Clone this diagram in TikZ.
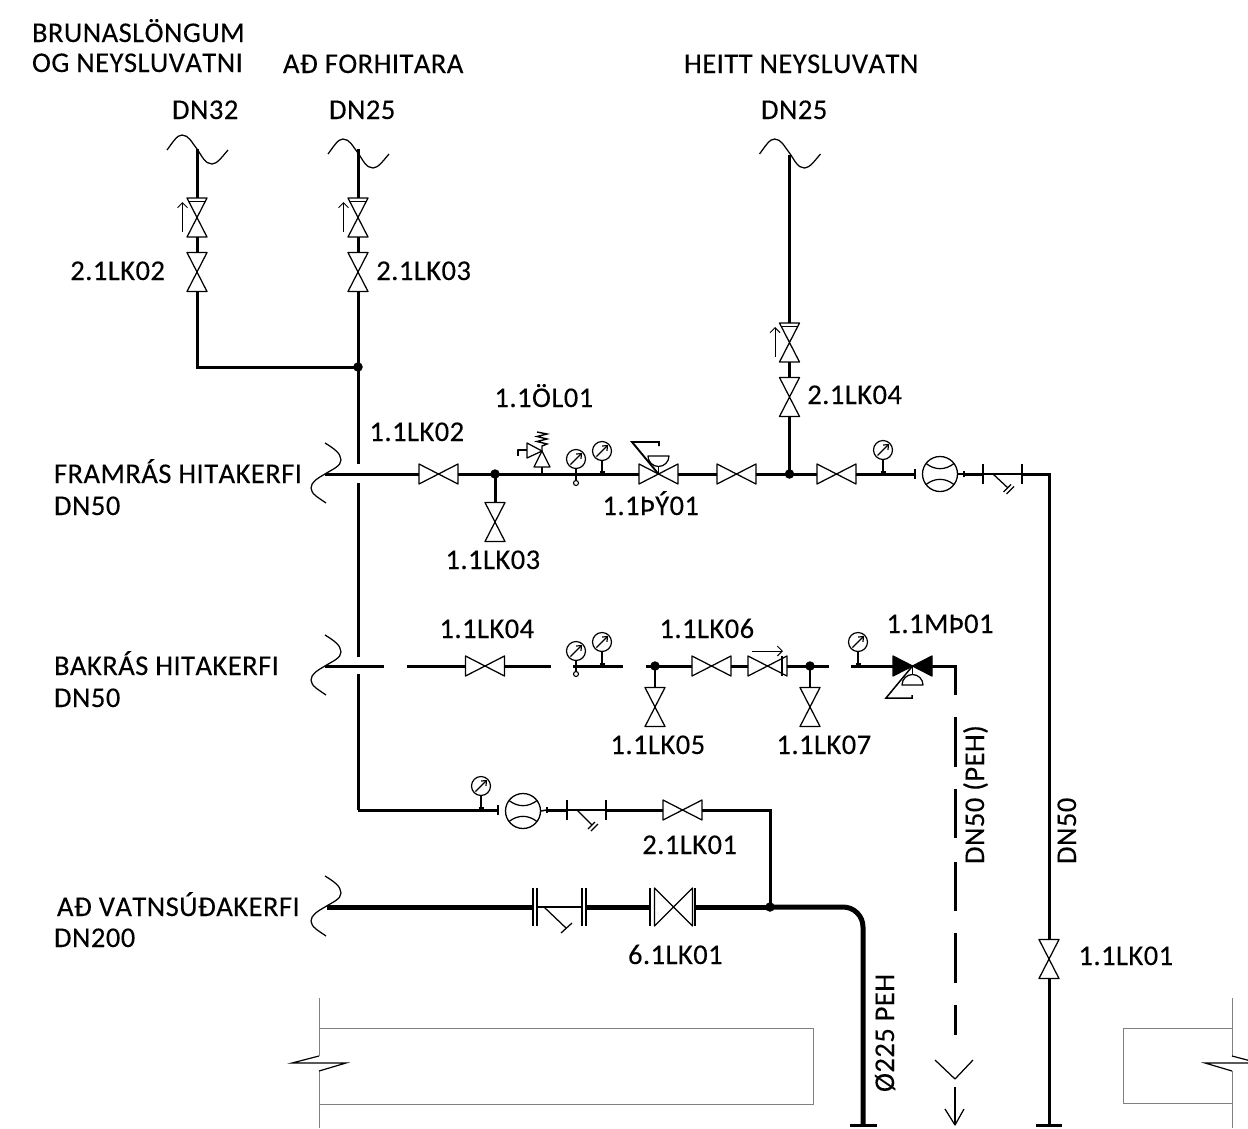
\documentclass[tikz,border=0pt]{standalone}
\usepackage{fontspec}
\setmainfont[Kerning=Off,LetterSpace=1.5,FakeBold=0.12]{Carlito}
\usetikzlibrary{arrows.meta}
\tikzset{
  pipe/.style={line width=3pt,line cap=butt,line join=miter},
  mainpipe/.style={line width=5pt,line cap=butt},
  thinpipe/.style={line width=1.5pt},
  sym/.style={line width=1.25pt,line join=round},
  wall/.style={line width=1pt,draw=black!50},
  vbox/.style={inner sep=0pt,outer sep=0pt,minimum size=0pt,rectangle},
  jdot/.style={circle,fill=black,inner sep=0pt,outer sep=0pt,minimum size=9.5pt},
  gaugecirc/.style={circle,draw,line width=1.2pt,inner sep=0pt,outer sep=0pt,minimum size=19pt},
  metercirc/.style={circle,draw,line width=1.3pt,inner sep=0pt,outer sep=0pt,minimum size=35pt},
  lab/.style={inner sep=0pt,outer sep=0pt,anchor=base west,font=\fontsize{28.6}{30}\selectfont},
  vlab/.style={lab,rotate=90},
}
% horizontal and vertical gate valves
\newcommand{\valveH}[3]{\node[vbox,minimum width=39pt,minimum height=20pt] (#1) at (#2,#3) {};
  \draw[sym] (#1.north west)--(#1.south east)--(#1.north east)--(#1.south west)--cycle;}
\newcommand{\valveV}[3]{\node[vbox,minimum width=20pt,minimum height=39pt] (#1) at (#2,#3) {};
  \draw[sym] (#1.north west)--(#1.north east)--(#1.south west)--(#1.south east)--cycle;}
% vertical check valve with arrow
\newcommand{\checkV}[3]{\valveV{#1}{#2}{#3}
  \draw[line width=0.9pt] ([xshift=1.5pt,yshift=-3pt]#1.north west)--([xshift=-1.5pt,yshift=-3pt]#1.north east);
  \begin{scope}[shift={(#2,#3)}]\draw[line width=1pt,-{Straight Barb[length=5pt,width=10pt]}] (-14.5,14.5)--(-14.5,-15.5);\end{scope}}
% gauge
\newcommand{\gaugeN}[3]{\node[gaugecirc] (#1) at (#2,#3) {};
  \begin{scope}[shift={(#2,#3)}]\draw[line width=1.2pt,-{Straight Barb[length=4pt,width=7pt]}] (-5.5,5.5)--(6,-6);\end{scope}}
\newcommand{\footed}[3]{\coordinate (#1-foot) at (#2,#3);
  \draw[sym] (#1.south)--(#1-foot);
  \draw[line width=2pt] ([xshift=-2.5pt,yshift=1pt]#1-foot)--([xshift=2.5pt,yshift=1pt]#1-foot);}
\newcommand{\ringed}[3]{\node[circle,draw,line width=1.1pt,inner sep=0pt,outer sep=0pt,minimum size=5pt] (#1-ring) at (#2,#3) {};
  \draw[sym] (#1.south)--(#1-ring.north);}
% flow meter
\newcommand{\meterN}[3]{\node[metercirc] (#1) at (#2,#3) {};
  \begin{scope}[shift={(#2,#3)}]
  \draw[sym] (-14,-10.5) .. controls (-5,-3.6) and (5,-3.6) .. (14,-10.5);
  \draw[sym] (-14,10.5) .. controls (-5,3.6) and (5,3.6) .. (14,10.5);
  \end{scope}}
% tick
\newcommand{\tickN}[4]{\coordinate (#1) at (#2,#3);
  \draw[sym] ([yshift=#4 pt]#1)--([yshift=-#4 pt]#1);}
\newcommand{\waveH}[2]{\draw[sym] (#1-30,#2+1) .. controls (#1-24,#2-7) and (#1-20,#2-14) .. (#1-15,#2-14) .. controls (#1-8,#2-14) and (#1-5,#2-6) .. (#1,#2) .. controls (#1+5,#2+7) and (#1+8,#2+15) .. (#1+15,#2+15) .. controls (#1+20,#2+15) and (#1+25,#2+8) .. (#1+31,#2+1);}
\newcommand{\waveV}[2]{\draw[sym] (#1,#2-31) .. controls (#1+8,#2-26) and (#1+16,#2-21) .. (#1+16,#2-14) .. controls (#1+16,#2-8) and (#1+8,#2-5) .. (#1,#2) .. controls (#1-7,#2+4) and (#1-14,#2+8) .. (#1-14,#2+14) .. controls (#1-14,#2+20) and (#1-6,#2+24) .. (#1+1,#2+29);}
\begin{document}
\begin{tikzpicture}[x=1pt,y=-1pt]
\useasboundingbox (0,0) rectangle (1248,1128);

% ---------- walls
\draw[wall] (319,1028)--(813,1028)--(813,1104)--(319,1104);
\draw[wall] (319,998)--(319,1056);
\draw[wall] (319,1071)--(319,1128);
\draw[line width=1.2pt] (319,1056)--(292,1063)--(346,1063)--(319,1071);
\draw[wall] (1232,1028)--(1123,1028)--(1123,1103)--(1232,1103);
\draw[wall] (1232,998)--(1232,1056);
\draw[wall] (1232,1071)--(1232,1128);
\draw[line width=1.2pt] (1232,1056)--(1248,1060.2);
\draw[line width=1.2pt] (1248,1063)--(1205,1063)--(1232,1071);

% ---------- top branches
\coordinate (t1) at (197,149);
\coordinate (t2) at (358,149);
\coordinate (t3) at (789.5,155);
\waveH{197}{149}\waveH{358}{153}\waveH{789.5}{153}
\checkV{c1}{197}{217.5}\valveV{v1}{197}{272}
\checkV{c2}{358}{217.5}\valveV{v2}{358}{272}
\node[jdot] (j1) at (358,367) {};
\coordinate (b1) at (197,367);
\draw[pipe] (t1)--(c1.north);
\draw[pipe] (c1.south)--(v1.north);
\draw[pipe] (v1.south)--(b1)--(j1.center);
\draw[pipe] (t2)--(c2.north);
\draw[pipe] (c2.south)--(v2.north);
\draw[pipe] (v2.south)--(j1.center);
\coordinate (g1a) at (358,464);
\coordinate (g1b) at (358,483);
\coordinate (g2a) at (358,657);
\coordinate (g2b) at (358,674);
\coordinate (r1) at (358,810);
\draw[pipe] (j1.center)--(g1a);
\draw[pipe] (g1b)--(g2a);

% ---------- supply line
\waveV{325}{474}
\coordinate (f0) at (325,474);
\valveH{lk02}{438.5}{474}
\node[jdot] (j2) at (495,474) {};
\valveV{lk03}{495}{522}
\valveH{py}{658.5}{474}
\valveH{vs}{736.5}{474}
\node[jdot] (j3) at (789.5,474) {};
\valveH{vs2}{836.5}{474}
\checkV{c3}{789.5}{342.5}\valveV{v4}{789.5}{397}
\draw[pipe] (f0)--(lk02.west);
\draw[pipe] (lk02.east)--(j2.center);
\draw[pipe] (j2.center)--(lk03.north);
\draw[pipe] (j2.center)--(py.west);
\draw[pipe] (py.east)--(vs.west);
\draw[pipe] (vs.east)--(j3.center);
\draw[pipe] (j3.center)--(vs2.west);
\draw[pipe] (j3.center)--(v4.south);
\draw[pipe] (v4.north)--(c3.south);
\draw[pipe] (c3.north)--(t3);

% safety valve
\coordinate (sv) at (542,474);
\coordinate (sva) at (542,451);
\draw[sym] (sv)--(542,467);
\draw[sym] (534,467)--(550,467)--(sva)--cycle;
\draw[sym] (527,443)--(527,458)--(sva)--cycle;
\draw[sym] (527,450)--(518,450)--(518,456);
\draw[line width=1.4pt] (sva)--(542,446)--(547,444)--(537,441.5)--(547,439)--(537,436.5)--(547,434)--(537,432);

% gauges on supply line
\gaugeN{g1}{576}{459}\ringed{g1}{576}{483}
\gaugeN{g2}{602}{451}\footed{g2}{602}{473}
\gaugeN{g3}{883}{450}\footed{g3}{883}{473}

% control valve actuator
\draw[sym] (py.center)--(658.5,456);
\draw[sym,fill=white] (648,456) arc[start angle=180,end angle=0,radius=10.5] -- cycle;
\draw[line width=1.9pt] (659,446)--(659,442)--(632,442)--(py.center);

% supply line end
\tickN{m1l}{915}{474}{5}
\meterN{m1}{940}{474}
\tickN{m1r}{964}{474}{3}
\tickN{s1a}{983}{474}{10}
\tickN{s1b}{1022}{474}{10}
\coordinate (cor1) at (1049,474);
\coordinate (end1) at (1049,1125);
\valveV{lk01}{1049}{959}
\draw[pipe] (vs2.east)--(m1l);
\draw[thinpipe] (m1.east)--(m1r);
\draw[pipe] (m1r)--(s1a);
\draw[thinpipe] (s1a)--(s1b);
\draw[pipe] (s1b)--(cor1)--(lk01.north);
\draw[pipe] (lk01.south)--(end1);
\draw[pipe] (1036,1125)--(1062,1125);
\coordinate (st1) at (993,474);
\draw[sym] (st1)--(1008,488);
\draw[sym] (1003.5,492)--(1011,484.5);
\draw[sym] (1006.5,494)--(1014,486.5);

% ---------- return line
\waveV{325}{666}
\coordinate (r0) at (325,666);
\coordinate (r0e) at (384,666);
\coordinate (r1s) at (407,666);
\valveH{lk04}{485}{666}
\coordinate (r1e) at (551,666);
\coordinate (r2s) at (573,666);
\coordinate (r2e) at (623,666);
\coordinate (r3s) at (646,666);
\node[jdot] (j4) at (655,666) {};
\valveH{lk06}{711.5}{666}
\valveH{cv}{767.5}{666}
\draw[sym] (782,656)--(782,676);
\node[jdot] (j5) at (810,666) {};
\coordinate (r3e) at (829,666);
\coordinate (r4s) at (851,666);
\valveH{mp}{912.5}{666}
\coordinate (cor2) at (955,666);
\coordinate (d1) at (955,695);
\valveV{lk05}{655}{707}
\valveV{lk07}{810}{707}
\draw[pipe] (r0)--(r0e);
\draw[pipe] (r1s)--(lk04.west);
\draw[pipe] (lk04.east)--(r1e);
\draw[pipe] (r2s)--(r2e);
\draw[pipe] (r3s)--(j4.center);
\draw[pipe] (j4.center)--(lk06.west);
\draw[pipe] (lk06.east)--(cv.west);
\draw[pipe] (cv.east)--(j5.center);
\draw[pipe] (j5.center)--(r3e);
\draw[pipe] (r4s)--(mp.west);
\draw[pipe] (mp.east)--(cor2)--(d1);
\draw[thinpipe] (j4.center)--(lk05.north);
\draw[thinpipe] (j5.center)--(lk07.north);
\draw[line width=1pt,-{Straight Barb[length=5pt,width=10pt]}] (752,651)--(783,651);
\gaugeN{g4}{576}{651}\ringed{g4}{576}{674}
\gaugeN{g5}{602}{642}\footed{g5}{602}{665}
\gaugeN{g6}{858}{642}\footed{g6}{858}{665}
% motor valve
\fill (mp.north west)--(mp.south east)--(mp.north east)--(mp.south west)--cycle;
\draw[sym] (mp.center)--(912.5,685);
\draw[sym,fill=white] (902,685) arc[start angle=180,end angle=360,radius=10.5] -- cycle;
\draw[line width=1.5pt] (mp.center)--(886,698)--(912,698)--(912,695);

% dashed return drop
\foreach \a/\b in {717/767,789/838,862/911,933/983,1005/1035}
  \draw[pipe] (955,\a)--(955,\b);
\coordinate (chev) at (955,1079);
\coordinate (drop) at (955,1087);
\coordinate (dropend) at (955,1125);
\draw[sym] (935,1060)--(chev)--(973,1060);
\draw[sym] (drop)--(dropend);
\draw[sym] (945,1109)--(dropend)--(964,1109);

% ---------- cold line
\draw[pipe] (g2b)--(r1);
\gaugeN{g7}{481}{786}\footed{g7}{481}{809}
\tickN{m2l}{498}{810}{5}
\meterN{m2}{523}{811}
\tickN{m2r}{547}{810}{3}
\tickN{s2a}{567}{810}{10}
\tickN{s2b}{606}{810}{10}
\valveH{lk01b}{682.5}{810}
\coordinate (cor3) at (770,810);
\node[jdot] (j6) at (770,907) {};
\draw[pipe] (r1)--(m2l);
\draw[thinpipe] (m2.east)--(m2r);
\draw[pipe] (m2r)--(s2a);
\draw[thinpipe] (s2a)--(s2b);
\draw[pipe] (s2b)--(lk01b.west);
\draw[pipe] (lk01b.east)--(cor3)--(j6.center);
\coordinate (st2) at (577,810);
\draw[sym] (st2)--(592,825);
\draw[sym] (588,829)--(595,822);
\draw[sym] (591,831)--(598,824);

% ---------- main line
\waveV{325}{907}
\coordinate (w0) at (327,907);
\tickN{a1}{533}{907}{19}
\tickN{a2}{537}{907}{19}
\tickN{a3}{582}{907}{19}
\tickN{a4}{586}{907}{19}
\tickN{a5}{650}{907}{19}
\tickN{a6}{695}{907}{19}
\node[vbox,minimum width=38pt,minimum height=38pt] (lk61) at (673.5,907) {};
\draw[sym] (lk61.north west)--(lk61.south east)--(lk61.north east)--(lk61.south west)--cycle;
\draw[mainpipe] (w0)--(a1);
\draw[thinpipe] (a2)--(a3);
\draw[mainpipe] (a4)--(a5);
\coordinate (end2) at (863,1125);
\draw[mainpipe] (a6)--(j6.center);
\draw[mainpipe,rounded corners=20pt] (j6.center)--(863,907)--(end2);
\draw[pipe] (850,1125)--(877,1125);
\coordinate (st3) at (544,907);
\draw[sym] (st3)--(566,928);
\draw[sym] (572,923)--(561,933);

% ---------- labels
\node[lab] (t01) at (32,42) {BRUNASLÖNGUM};
\node[lab] (t02) at (32,72) {OG NEYSLUVATNI};
\node[lab] (t03) at (283,73) {AÐ FORHITARA};
\node[lab] (t04) at (684,73) {HEITT NEYSLUVATN};
\node[lab] (t05) at (172,119) {DN32};
\node[lab] (t06) at (329,119) {DN25};
\node[lab] (t07) at (761,119) {DN25};
\node[lab] (t08) at (70.3,280) {2.1LK02};
\node[lab] (t09) at (376.3,280) {2.1LK03};
\node[lab] (t10) at (494.5,407) {1.1ÖL01};
\node[lab] (t11) at (369.5,441) {1.1LK02};
\node[lab] (t12) at (54,483) {FRAMRÁS HITAKERFI};
\node[lab] (t13) at (54,515) {DN50};
\node[lab] (t14) at (807.3,404) {2.1LK04};
\node[lab] (t15) at (602.5,515) {1.1ÞÝ01};
\node[lab] (t16) at (445.5,569) {1.1LK03};
\node[lab] (t17) at (54,675) {BAKRÁS HITAKERFI};
\node[lab] (t18) at (54,707) {DN50};
\node[lab] (t19) at (439.5,638) {1.1LK04};
\node[lab] (t20) at (659.5,638) {1.1LK06};
\node[lab] (t21) at (886.5,633) {1.1MÞ01};
\node[lab] (t22) at (610.5,754) {1.1LK05};
\node[lab] (t23) at (776.5,754) {1.1LK07};
\node[lab] (t24) at (642.3,854) {2.1LK01};
\node[lab] (t25) at (57,916) {AÐ VATNSÚÐAKERFI};
\node[lab] (t26) at (54,947) {DN200};
\node[lab] (t27) at (628,964) {6.1LK01};
\node[lab] (t28) at (1078.5,965) {1.1LK01};
\node[vlab] (t29) at (984,864) {DN50 (PEH)};
\node[vlab] (t30) at (1076,864) {DN50};
\node[vlab] (t31) at (894,1092) {Ø225 PEH};
\end{tikzpicture}
\end{document}
